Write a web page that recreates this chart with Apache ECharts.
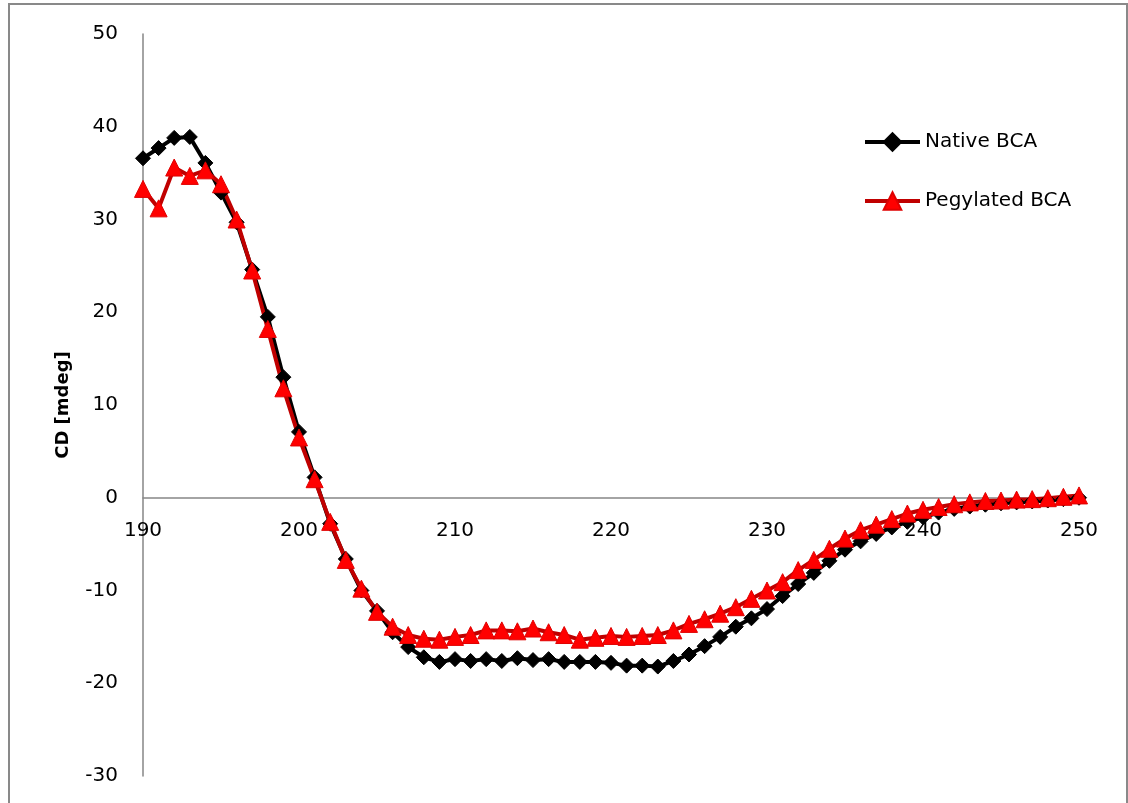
<!DOCTYPE html>
<html>
<head>
<meta charset="utf-8">
<title>CD spectra of native and pegylated BCA</title>
<script src="https://cdn.jsdelivr.net/npm/echarts@6/dist/echarts.min.js"></script>
<style>
  html, body { margin: 0; padding: 0; background: #fff; }
  #chart { width: 1128px; height: 803px; }
</style>
</head>
<body>
<div id="chart"></div>
<script>
// Wavelength (nm), one reading per nanometre
const wavelengths = [
  190, 191, 192, 193, 194, 195, 196, 197, 198, 199,
  200, 201, 202, 203, 204, 205, 206, 207, 208, 209,
  210, 211, 212, 213, 214, 215, 216, 217, 218, 219,
  220, 221, 222, 223, 224, 225, 226, 227, 228, 229,
  230, 231, 232, 233, 234, 235, 236, 237, 238, 239,
  240, 241, 242, 243, 244, 245, 246, 247, 248, 249, 250
];

// Ellipticity, mdeg
const nativeBCA = [
  36.6, 37.7, 38.8, 38.9, 36.1, 32.9, 29.7, 24.6, 19.5, 13.0,
  7.1, 2.2, -2.8, -6.6, -10.0, -12.2, -14.5, -16.1, -17.2, -17.7,
  -17.4, -17.6, -17.4, -17.6, -17.3, -17.5, -17.4, -17.7, -17.7, -17.7,
  -17.8, -18.1, -18.1, -18.2, -17.6, -16.9, -16.0, -15.0, -13.9, -13.0,
  -12.0, -10.6, -9.3, -8.1, -6.8, -5.6, -4.7, -3.9, -3.2, -2.6,
  -2.1, -1.6, -1.2, -0.95, -0.75, -0.6, -0.5, -0.4, -0.3, -0.15, 0.0
];

const pegylatedBCA = [
  33.3, 31.2, 35.6, 34.7, 35.3, 33.8, 30.0, 24.5, 18.2, 11.8,
  6.5, 2.0, -2.6, -6.7, -9.8, -12.3, -13.9, -14.8, -15.2, -15.3,
  -15.0, -14.8, -14.3, -14.3, -14.4, -14.1, -14.5, -14.8, -15.3, -15.1,
  -14.9, -15.0, -14.9, -14.8, -14.3, -13.6, -13.1, -12.5, -11.8, -10.9,
  -10.0, -9.1, -7.8, -6.7, -5.5, -4.4, -3.5, -2.9, -2.3, -1.7,
  -1.3, -1.0, -0.7, -0.5, -0.35, -0.3, -0.2, -0.15, -0.05, 0.1, 0.25
];

const seriesNames = ['Native BCA', 'Pegylated BCA'];
const yAxisTitle = 'CD [mdeg]';

const pairs = (ys) => wavelengths.map((x, i) => [x, ys[i]]);

const FONT = '"DejaVu Sans", sans-serif';
const AXIS_GREY = '#868686';

// Plot area and value ranges
const GRID = { left: 143, right: 49, top: 34, bottom: 27 };
const Y_MIN = -30, Y_MAX = 50;
const plotHeight = 803 - GRID.top - GRID.bottom;
// The wavelength axis sits on CD = 0: shift it up from the bottom of the plot area
const xAxisShift = -plotHeight * (0 - Y_MIN) / (Y_MAX - Y_MIN);

const chart = echarts.init(document.getElementById('chart'), null, { renderer: 'canvas' });

chart.setOption({
  animation: false,
  backgroundColor: '#ffffff',
  textStyle: { fontFamily: FONT, color: '#000' },
  graphic: [{
    type: 'rect',
    silent: true,
    z: -1,
    shape: { x: 9, y: 4, width: 1118, height: 805 },
    style: { fill: 'none', stroke: '#898989', lineWidth: 2 }
  }],
  grid: Object.assign({ containLabel: false, outerBoundsMode: 'none' }, GRID),
  legend: {
    orient: 'vertical',
    left: 858,
    top: 125,
    itemWidth: 55,
    itemHeight: 22,
    itemGap: 35,
    lineStyle: { width: 4 },
    textStyle: { fontFamily: FONT, fontSize: 20, color: '#000', lineHeight: 24 },
    data: seriesNames
  },
  xAxis: {
    type: 'value',
    min: 190,
    max: 250,
    interval: 10,
    offset: xAxisShift,
    axisLine: { onZero: false, lineStyle: { color: AXIS_GREY, width: 1.5 } },
    axisTick: { show: false },
    splitLine: { show: false },
    axisLabel: { fontFamily: FONT, fontSize: 20, color: '#000', margin: 23 }
  },
  yAxis: {
    type: 'value',
    min: Y_MIN,
    max: Y_MAX,
    interval: 10,
    name: yAxisTitle,
    nameLocation: 'middle',
    nameGap: 71,
    nameTextStyle: { fontFamily: FONT, fontSize: 18, fontWeight: 'bold', color: '#000' },
    axisLine: { show: true, onZero: false, lineStyle: { color: AXIS_GREY, width: 1.5 } },
    axisTick: { show: false },
    splitLine: { show: false },
    axisLabel: { fontFamily: FONT, fontSize: 20, color: '#000', margin: 25 }
  },
  series: [
    {
      name: seriesNames[0],
      type: 'line',
      data: pairs(nativeBCA),
      symbol: 'diamond',
      symbolSize: 15,
      showAllSymbol: true,
      lineStyle: { color: '#000000', width: 4 },
      itemStyle: { color: '#000000', borderColor: '#000000', borderWidth: 1 }
    },
    {
      name: seriesNames[1],
      type: 'line',
      data: pairs(pegylatedBCA),
      symbol: 'triangle',
      symbolSize: 17,
      showAllSymbol: true,
      lineStyle: { color: '#C00000', width: 4 },
      itemStyle: { color: '#FF0000', borderColor: '#E00000', borderWidth: 1 }
    }
  ]
});
</script>
</body>
</html>
